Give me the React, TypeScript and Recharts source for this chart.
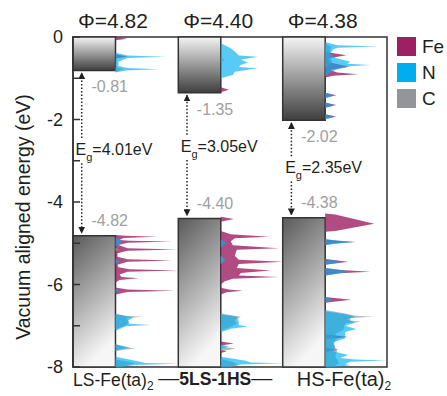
import React from "react";
import {
  Area,
  ComposedChart,
  Legend,
  ReferenceArea,
  ReferenceDot,
  ReferenceLine,
  XAxis,
  YAxis,
} from "recharts";

type Pt = [number, number]; // [energy eV, DOS (arb.)]

// ---- data ----
const workFunction = [4.82, 4.4, 4.38];
const cbm = [-0.81, -1.35, -2.02];
const vbm = [-4.82, -4.4, -4.38];
const bandGap = [4.01, 3.05, 2.35];
const energyTicks = [0, -1, -2, -3, -4, -5, -6, -7, -8];
const elements = ["Fe", "N", "C"];

// LS-Fe(ta)2
const feLS: Pt[] = [
  [-0.0, 0], [-0.04, 12], [-0.08, 0],
  [-0.42, 0], [-0.47, 12], [-0.52, 0],
  [-4.8, 0], [-4.82, 10], [-4.84, 42], [-4.87, 8], [-4.92, 4], [-4.94, 14], [-4.96, 57],
  [-4.99, 12], [-5.04, 3], [-5.12, 12], [-5.15, 62], [-5.18, 12], [-5.24, 2], [-5.33, 2],
  [-5.39, 12], [-5.42, 57], [-5.45, 12], [-5.52, 2], [-5.58, 3], [-5.63, 14], [-5.66, 63],
  [-5.69, 12], [-5.76, 4], [-5.82, 6], [-5.85, 23], [-5.89, 4], [-5.95, 0],
  [-6.07, 0], [-6.12, 12], [-6.15, 60], [-6.18, 12], [-6.24, 0],
];
const nLS: Pt[] = [
  [-0.38, 0], [-0.45, 12], [-0.48, 50], [-0.51, 12], [-0.6, 3], [-0.7, 3], [-0.75, 12],
  [-0.78, 43], [-0.81, 10], [-0.86, 0],
  [-4.86, 0], [-4.92, 5], [-5.0, 6], [-5.08, 0],
  [-5.38, 0], [-5.43, 4], [-5.5, 0],
  [-6.1, 0], [-6.15, 4], [-6.2, 0],
  [-6.72, 0], [-6.8, 18], [-6.88, 12], [-6.95, 14], [-6.98, 35], [-7.01, 10], [-7.08, 4], [-7.12, 0],
  [-7.45, 0], [-7.53, 14], [-7.6, 0],
  [-7.75, 0], [-7.85, 20], [-7.9, 30], [-7.92, 63], [-7.95, 20], [-8.0, 5],
];
const cLS: Pt[] = [
  [-0.72, 0], [-0.78, 8], [-0.84, 0],
  [-5.11, 0], [-5.15, 4], [-5.2, 0],
  [-6.7, 0], [-6.76, 10], [-6.78, 27], [-6.81, 10], [-6.9, 14], [-7.0, 10], [-7.08, 0],
  [-7.45, 0], [-7.52, 10], [-7.55, 20], [-7.58, 8], [-7.62, 0],
  [-7.82, 0], [-7.9, 20], [-8.0, 6],
];

// 5LS-1HS
const feMix: Pt[] = [
  [-1.22, 0], [-1.28, 8], [-1.34, 0],
  [-4.36, 0], [-4.41, 13], [-4.48, 0],
  [-4.7, 0], [-4.78, 10], [-4.84, 48], [-4.88, 14], [-4.95, 10], [-5.05, 12], [-5.12, 58],
  [-5.16, 16], [-5.3, 14], [-5.4, 18], [-5.45, 62], [-5.5, 18], [-5.6, 16], [-5.66, 50],
  [-5.72, 20], [-5.78, 18], [-5.82, 58], [-5.86, 12], [-5.92, 4], [-6.0, 0],
  [-6.08, 0], [-6.12, 8], [-6.15, 22], [-6.19, 6], [-6.24, 0],
  [-7.38, 0], [-7.43, 13], [-7.48, 0],
  [-7.58, 0], [-7.62, 6], [-7.66, 0],
];
const nMix: Pt[] = [
  [-0.15, 0], [-0.27, 10], [-0.35, 14], [-0.45, 18], [-0.48, 37], [-0.55, 20], [-0.62, 27],
  [-0.68, 20], [-0.73, 18], [-0.76, 37], [-0.84, 14], [-0.92, 12], [-1.0, 0],
  [-4.9, 0], [-5.0, 6], [-5.1, 0],
  [-5.3, 0], [-5.4, 5], [-5.5, 0],
  [-6.72, 0], [-6.78, 16], [-6.9, 18], [-6.98, 18], [-7.02, 27], [-7.07, 10], [-7.16, 0],
  [-7.45, 0], [-7.5, 8], [-7.56, 0],
  [-7.75, 0], [-7.85, 25], [-7.89, 30], [-7.91, 62], [-7.94, 20], [-8.0, 5],
];
const cMix: Pt[] = [
  [-0.5, 0], [-0.55, 4], [-0.6, 0],
  [-5.3, 0], [-5.4, 4], [-5.5, 0],
  [-6.7, 0], [-6.78, 20], [-6.86, 14], [-6.95, 16], [-7.05, 8], [-7.12, 0],
  [-7.5, 0], [-7.55, 15], [-7.62, 0],
  [-7.8, 0], [-7.88, 12], [-7.96, 18], [-8.0, 10],
];

// HS-Fe(ta)2
const feHS: Pt[] = [
  [-0.36, 0], [-0.44, 21], [-0.52, 3], [-0.62, 5], [-0.72, 24], [-0.8, 5], [-0.86, 12],
  [-0.9, 33], [-0.94, 8], [-0.98, 0],
  [-1.35, 0], [-1.41, 11], [-1.47, 0],
  [-1.59, 0], [-1.65, 11], [-1.71, 0],
  [-1.87, 0], [-1.93, 11], [-1.99, 0],
  [-4.28, 0], [-4.3, 10], [-4.53, 49], [-4.7, 10], [-4.72, 0],
  [-4.9, 0], [-4.94, 12], [-4.97, 31], [-5.0, 10], [-5.04, 0],
  [-5.38, 0], [-5.45, 23], [-5.52, 0],
  [-5.6, 0], [-5.65, 16], [-5.69, 45], [-5.73, 14], [-5.78, 0],
  [-6.3, 0], [-6.37, 26], [-6.44, 0],
  [-7.2, 0], [-7.27, 23], [-7.33, 0],
  [-7.52, 0], [-7.58, 13], [-7.64, 0],
];
const nHS: Pt[] = [
  [-0.12, 0], [-0.2, 12], [-0.23, 53], [-0.26, 12], [-0.3, 8], [-0.4, 5], [-0.5, 10],
  [-0.6, 25], [-0.65, 22], [-0.68, 45], [-0.71, 24], [-0.78, 12], [-0.84, 6], [-0.95, 0],
  [-1.35, 0], [-1.42, 9], [-1.49, 0],
  [-1.59, 0], [-1.66, 9], [-1.73, 0],
  [-1.87, 0], [-1.94, 9], [-2.0, 0],
  [-4.9, 0], [-4.97, 28], [-5.04, 0],
  [-5.38, 0], [-5.45, 18], [-5.52, 0],
  [-5.6, 0], [-5.69, 26], [-5.78, 0],
  [-6.3, 0], [-6.38, 8], [-6.44, 0],
  [-6.65, 0], [-6.72, 20], [-6.78, 30], [-6.85, 22], [-6.92, 30], [-7.0, 20], [-7.08, 31],
  [-7.15, 20], [-7.3, 20], [-7.4, 8], [-7.5, 10], [-7.62, 8], [-7.71, 23], [-7.78, 15],
  [-7.82, 30], [-7.84, 61], [-7.87, 25], [-7.93, 20], [-7.96, 25], [-8.0, 10],
];
const cHS: Pt[] = [
  [-0.15, 0], [-0.25, 6], [-0.4, 4], [-0.6, 7], [-0.75, 0],
  [-6.62, 0], [-6.7, 20], [-6.76, 30], [-6.78, 48], [-6.81, 25], [-6.87, 25], [-6.9, 36],
  [-6.94, 20], [-7.1, 18], [-7.2, 10], [-7.3, 12], [-7.45, 8], [-7.6, 12], [-7.75, 10],
  [-7.9, 14], [-8.0, 8],
];

// ---- layout / styles ----
const FONT = "'Liberation Sans', Arial, sans-serif";
const FE = "#9e1f63";
const N = "#00aeef";
const C = "#939598";
const elementColors = [FE, N, C];
const PLOT_W = 314;
const COL_X = [0, 105.3, 209.7];
const BAR_W = 42.5;
const EG_Y = [-2.86, -2.78, -3.3];

const dosSeries = [
  { key: "fe0", col: 0, pts: feLS, color: FE, op: 0.8 },
  { key: "fe1", col: 1, pts: feMix, color: FE, op: 0.8 },
  { key: "fe2", col: 2, pts: feHS, color: FE, op: 0.8 },
  { key: "c0", col: 0, pts: cLS, color: C, op: 0.7 },
  { key: "c1", col: 1, pts: cMix, color: C, op: 0.7 },
  { key: "c2", col: 2, pts: cHS, color: C, op: 0.7 },
  { key: "n0", col: 0, pts: nLS, color: N, op: 0.65 },
  { key: "n1", col: 1, pts: nMix, color: N, op: 0.65 },
  { key: "n2", col: 2, pts: nHS, color: N, op: 0.65 },
];

const rows: Array<Record<string, number>> = [];
dosSeries.forEach((s) =>
  s.pts.forEach(([e, v]) => rows.push({ e, [s.key]: COL_X[s.col] + BAR_W + v }))
);
rows.sort((a, b) => b.e - a.e);

const textMark =
  (dx: number, dy: number, content: React.ReactNode, extra: any = {}) =>
  (p: any) =>
    (
      <text x={p.cx + dx} y={p.cy + dy} fontFamily={FONT} {...extra}>
        {content}
      </text>
    );

const sub2 = (
  <tspan dy={4} fontSize={12}>
    2
  </tspan>
);

export default function App() {
  return (
    <div style={{ position: "absolute", left: 0, top: 0, fontFamily: FONT }}>
      <ComposedChart
        width={447}
        height={396}
        data={rows}
        layout="vertical"
        margin={{ top: 37, right: 60, bottom: 29, left: 0 }}
      >
        <defs>
          <linearGradient id="cbGrad" x1="0" y1="0" x2="0" y2="1">
            <stop offset="0%" stopColor="#f4f4f4" />
            <stop offset="100%" stopColor="#3f3f3f" />
          </linearGradient>
          <linearGradient id="vbGrad" x1="0" y1="0" x2="0.3" y2="1">
            <stop offset="0%" stopColor="#5a5a5a" />
            <stop offset="100%" stopColor="#f6f6f6" />
          </linearGradient>
          <marker
            id="arrowHead"
            viewBox="0 0 10 10"
            refX="9"
            refY="5"
            markerWidth="7"
            markerHeight="7"
            markerUnits="userSpaceOnUse"
            orient="auto"
          >
            <path d="M0,0 L10,5 L0,10 z" fill="#231f20" />
          </marker>
        </defs>

        <XAxis type="number" domain={[0, PLOT_W]} allowDataOverflow hide />
        <YAxis
          type="number"
          dataKey="e"
          domain={[-8, 0]}
          allowDataOverflow
          reversed
          width={73}
          ticks={energyTicks}
          interval={0}
          tickFormatter={(v: number) => (v % 2 === 0 ? String(v) : "")}
          tickSize={-7}
          tickMargin={17}
          axisLine={{ stroke: "#333", strokeWidth: 1.5 }}
          tickLine={{ stroke: "#333", strokeWidth: 1.5 }}
          tick={{ fill: "#231f20", fontSize: 18, fontFamily: FONT }}
          label={() => (
            <text
              x={23}
              y={217}
              transform="rotate(-90 23 217)"
              textAnchor="middle"
              dominantBaseline="central"
              fontSize={19.5}
              fontFamily={FONT}
              fill="#231f20"
            >
              Vacuum aligned energy (eV)
            </text>
          )}
        />

        {/* plot frame */}
        <ReferenceArea
          x1={0}
          x2={PLOT_W}
          y1={-8}
          y2={0}
          fill="none"
          stroke="#333"
          strokeWidth={1.5}
        />

        {/* conduction / valence band blocks */}
        {cbm.map((v, i) => (
          <ReferenceArea
            key={"cb" + i}
            x1={COL_X[i]}
            x2={COL_X[i] + BAR_W}
            y1={v}
            y2={0}
            fill="url(#cbGrad)"
            fillOpacity={1}
            stroke="#333"
            strokeWidth={1.5}
          />
        ))}
        {vbm.map((v, i) => (
          <ReferenceArea
            key={"vb" + i}
            x1={COL_X[i]}
            x2={COL_X[i] + BAR_W}
            y1={-8}
            y2={v}
            fill="url(#vbGrad)"
            fillOpacity={1}
            stroke="#333"
            strokeWidth={1.5}
          />
        ))}

        {/* projected DOS */}
        {dosSeries.map((s) => (
          <Area
            key={s.key}
            dataKey={s.key}
            baseValue={COL_X[s.col] + BAR_W}
            connectNulls
            type="linear"
            stroke="none"
            fill={s.color}
            fillOpacity={s.op}
            dot={false}
            activeDot={false}
            isAnimationActive={false}
          />
        ))}

        {/* band gap arrows */}
        {cbm.map((v, i) => (
          <ReferenceLine
            key={"au" + i}
            segment={[
              { x: COL_X[i] + 8.7, y: EG_Y[i] + 0.41 },
              { x: COL_X[i] + 8.7, y: v - 0.06 },
            ]}
            stroke="#231f20"
            strokeWidth={1.5}
            strokeDasharray="1.5 2"
            markerEnd="url(#arrowHead)"
          />
        ))}
        {vbm.map((v, i) => (
          <ReferenceLine
            key={"ad" + i}
            segment={[
              { x: COL_X[i] + 8.7, y: EG_Y[i] - 0.2 },
              { x: COL_X[i] + 8.7, y: v + 0.07 },
            ]}
            stroke="#231f20"
            strokeWidth={1.5}
            strokeDasharray="1.5 2"
            markerEnd="url(#arrowHead)"
          />
        ))}

        {/* value labels */}
        {cbm.map((v, i) => (
          <ReferenceDot
            key={"lc" + i}
            x={COL_X[i] + 18.5}
            y={v}
            r={0}
            shape={textMark(0, 22, v.toFixed(2), { fontSize: 16, fill: "#a0a0a0" })}
          />
        ))}
        {vbm.map((v, i) => (
          <ReferenceDot
            key={"lv" + i}
            x={COL_X[i] + 18.5}
            y={v}
            r={0}
            shape={textMark(0, -9.5, v.toFixed(2), { fontSize: 16, fill: "#a0a0a0" })}
          />
        ))}
        {bandGap.map((g, i) => (
          <ReferenceDot
            key={"eg" + i}
            x={COL_X[i] + 2.5}
            y={EG_Y[i]}
            r={0}
            shape={textMark(
              0,
              0,
              <>
                E
                <tspan dy={6} fontSize={11}>
                  g
                </tspan>
                <tspan dy={-6}>={g.toFixed(2)}eV</tspan>
              </>,
              { fontSize: 16, fill: "#231f20" }
            )}
          />
        ))}
        {workFunction.map((w, i) => (
          <ReferenceDot
            key={"wf" + i}
            x={COL_X[i]}
            y={0}
            r={0}
            shape={textMark(5, -9, "Φ=" + w.toFixed(2), { fontSize: 21, fill: "#231f20" })}
          />
        ))}

        {/* structure names */}
        <ReferenceDot
          x={COL_X[0]}
          y={-8}
          r={0}
          shape={textMark(0, 19, <>LS-Fe(ta){sub2}</>, { fontSize: 17.5, fill: "#231f20" })}
        />
        <ReferenceDot
          x={COL_X[1]}
          y={-8}
          r={0}
          shape={textMark(
            -20,
            18,
            <>
              <tspan fontSize={21}>—</tspan>
              <tspan fontWeight="bold" fontSize={17.5}>
                5LS-1HS
              </tspan>
              <tspan fontSize={21}>—</tspan>
            </>,
            { fill: "#231f20" }
          )}
        />
        <ReferenceDot
          x={COL_X[2]}
          y={-8}
          r={0}
          shape={textMark(14, 19, <>HS-Fe(ta){sub2}</>, { fontSize: 20, fill: "#231f20" })}
        />

        <Legend
          layout="vertical"
          align="center"
          verticalAlign="middle"
          wrapperStyle={{ left: 397, top: 37, width: 50 }}
          content={() => (
            <div style={{ fontFamily: FONT }}>
              {elements.map((name, i) => (
                <div
                  key={name}
                  style={{ display: "flex", alignItems: "center", height: 19, marginBottom: 7 }}
                >
                  <span
                    style={{
                      width: 19,
                      height: 19,
                      background: elementColors[i],
                      display: "inline-block",
                    }}
                  />
                  <span style={{ fontSize: 19, marginLeft: 6, color: "#231f20" }}>{name}</span>
                </div>
              ))}
            </div>
          )}
        />
      </ComposedChart>
    </div>
  );
}
